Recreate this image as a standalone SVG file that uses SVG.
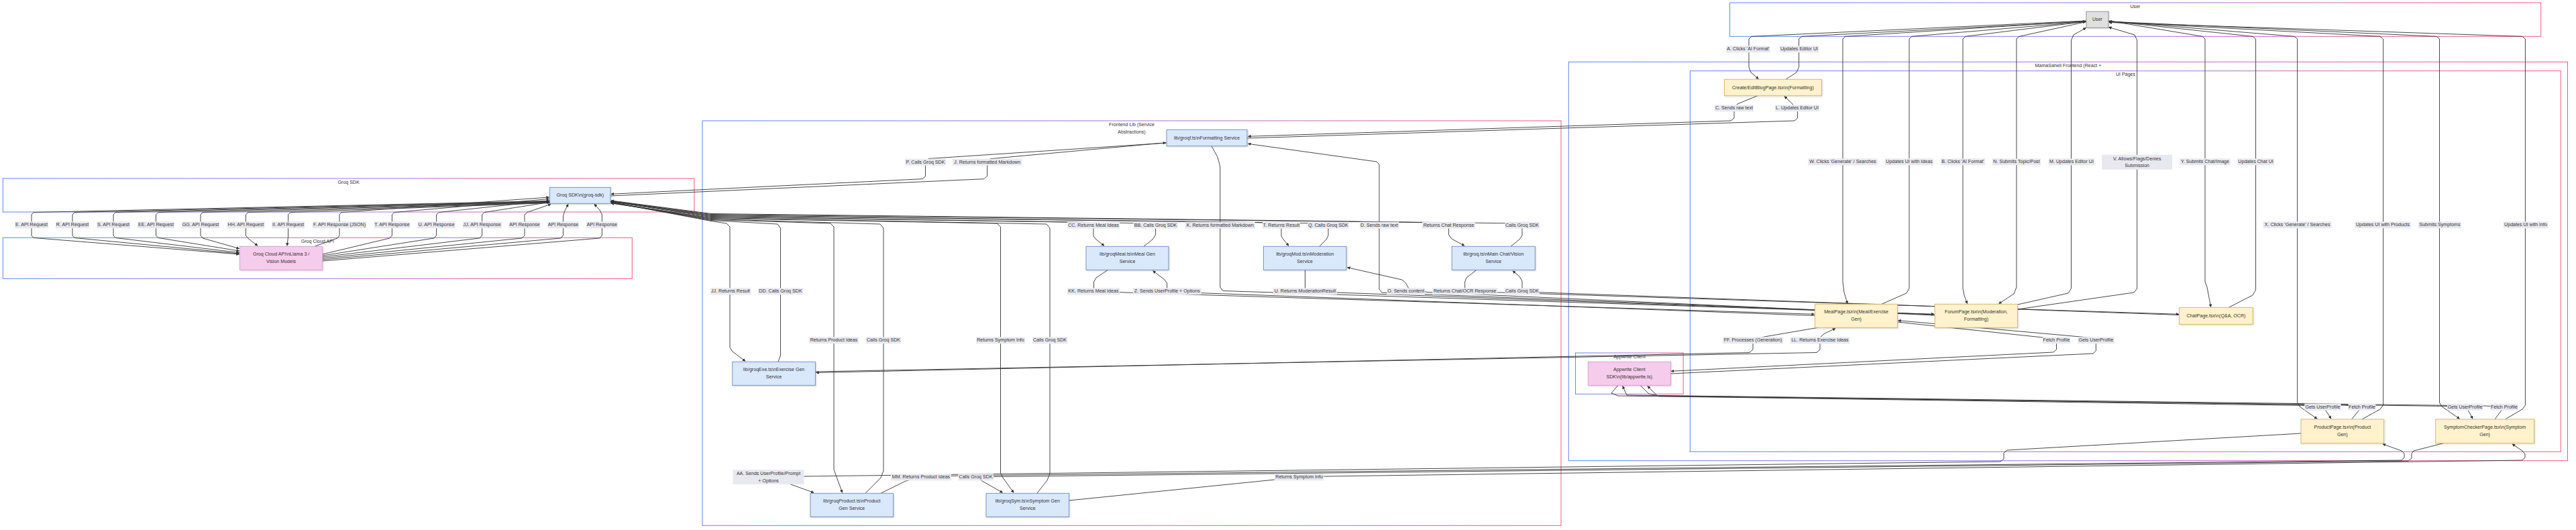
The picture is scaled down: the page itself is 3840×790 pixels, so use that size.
<svg xmlns="http://www.w3.org/2000/svg" width="3840" height="790" viewBox="0 0 3840 790">
<style>
text{font-family:"Liberation Sans",Arial,Helvetica,sans-serif;font-size:7.1px;fill:#333;text-anchor:middle;dominant-baseline:central}
.c{fill:#fff;stroke:url(#cg);stroke-width:1}
.e path{fill:none;stroke:#333;stroke-width:0.9;stroke-linejoin:round;marker-end:url(#ah)}
.l rect{fill:#e8e8f0}
.nb{fill:#dae8fc;stroke:#6c8ebf;stroke-width:0.9}
.ny{fill:#fff2cc;stroke:#d6b656;stroke-width:0.9}
.np{fill:#f6ccec;stroke:#d99bd0;stroke-width:0.9}
.ng{fill:#e0e0e0;stroke:#8c8c8c;stroke-width:0.9}
.n rect{filter:url(#sh)}
</style>
<defs>
<linearGradient id="cg" x1="0" y1="0" x2="1" y2="0">
<stop offset="0" stop-color="#5b86f0"/>
<stop offset="0.5" stop-color="#a673dc"/>
<stop offset="1" stop-color="#f25a7f"/>
</linearGradient>
<filter id="sh" x="-10%" y="-20%" width="130%" height="150%">
<feDropShadow dx="1" dy="1" stdDeviation="0.8" flood-color="#000" flood-opacity="0.18"/>
</filter>
<marker id="ah" viewBox="0 0 10 10" refX="9" refY="5" markerWidth="4.6" markerHeight="4.6" markerUnits="userSpaceOnUse" orient="auto">
<path d="M0,0 L10,5 L0,10 z" fill="#333"/>
</marker>
</defs>
<rect width="3840" height="790" fill="#fff"/>

<g id="clusters">
<g id="cl-user"><rect class="c" x="2578.6" y="4" width="1209.1" height="50.3"/><text x="3183" y="9.5">User</text></g>
<g id="cl-frontend"><rect class="c" x="2338.3" y="92.3" width="1489.2" height="594.4"/><text x="3083" y="97.7">MamaSaheli Frontend (React +</text></g>
<g id="cl-uipages"><rect class="c" x="2519.4" y="105.7" width="1297.9" height="567.6"/><text x="3168.5" y="110.7">UI Pages</text></g>
<g id="cl-appwrite"><rect class="c" x="2348.5" y="526" width="160.7" height="61.3"/><text x="2429" y="531.7">Appwrite Client</text></g>
<g id="cl-lib"><rect class="c" x="1047" y="180" width="1280" height="603.3"/><text x="1687" y="185.7">Frontend Lib (Service</text><text x="1687" y="196.7">Abstractions)</text></g>
<g id="cl-sdk"><rect class="c" x="4.3" y="266" width="1030.6" height="50"/><text x="519.7" y="271.7">Groq SDK</text></g>
<g id="cl-cloud"><rect class="c" x="4.3" y="354.3" width="938" height="61"/><text x="473.3" y="359.7">Groq Cloud API</text></g>
</g>

<g id="connectors" class="e">
<!-- SDK -> API requests -->
<path d="M820,299.5 L50,316.5 L47,320 L47,351 L50,354.5 L356.5,379"/>
<path d="M820,300 L111,316.5 L108,320 L108,351 L111,354.5 L356.5,378"/>
<path d="M820,300.5 L172,316.5 L169,320 L169,351 L172,354.5 L356.5,376.5"/>
<path d="M820,301 L236,316.5 L232.5,320 L232.5,351 L236,354.5 L356.5,374"/>
<path d="M820,301.5 L302,316.5 L299,320 L299,351 L302,355 L356.5,370.5"/>
<path d="M820,302 L370,316.5 L366.4,320 L366.4,351 L370,355.5 L384,366.3"/>
<path d="M820,302.5 L433,316.5 L429.6,320 L429.6,352 L428,366.3"/>
<!-- API -> SDK responses -->
<path d="M469,367.3 L503,355 L506,351 L506,320 L509,316.5 L818.6,294"/>
<path d="M480.7,379 L581,355 L584.4,351 L584.4,320 L588,316.5 L818.6,296.5"/>
<path d="M480.7,381 L647,355 L650.6,351 L650.6,320 L654,316.5 L818.6,299"/>
<path d="M480.7,383 L715,355 L718.6,351 L718.6,320 L722,316.5 L818.6,301.5"/>
<path d="M480.7,385 L778,355 L782,351 L782,320 L786,316.5 L821,304.3"/>
<path d="M480.7,387 L836,355 L839.5,351 L839.5,322 L842,314 L847,304.3"/>
<path d="M480.7,389 L894,355 L897.4,351 L897.4,320 L894,313 L886,304.3"/>
<!-- SDK <-> lib services -->
<path d="M1739,213 L1384,236.5 L1379.5,241 L1379.5,263 L1375,266.7 L911,289.3"/>
<path d="M910,292 L1467,266.7 L1471.7,262 L1471.7,241 L1476,236.7 L1738,212.7"/>
<path d="M910,301 L1060,329.5 L1083,333 L1088,338 L1088,518 L1092,524 L1111,538.3"/>
<path d="M1160,539.3 L1163.5,530 L1163.5,340 L1159,334 L1060,328.5 L911,302"/>
<path d="M910,301.5 L1060,327.5 L1238,333 L1243,338 L1243,700 L1246,708 L1255.6,734.3"/>
<path d="M1290,735.3 L1313,712 L1317,702 L1317,340 L1312,334 L1060,326.5 L911,302.5"/>
<path d="M910,302 L1060,325.5 L1486,333 L1491.5,338 L1491.5,705 L1495,712 L1511,734.3"/>
<path d="M1545.8,735.3 L1561,716 L1565,706 L1565,340 L1560,334 L1060,324.5 L911,303"/>
<path d="M910,300.5 L1060,323.5 L1625,331.5 L1630,336 L1630,352 L1634,357 L1646,366.3"/>
<path d="M1705,367.3 L1718,357 L1722.6,350 L1722.6,338 L1717,333 L1060,322.5 L911,300"/>
<path d="M910,300 L1060,321.5 L1905,332 L1910,336 L1910,352 L1914,358 L1921,366.3"/>
<path d="M1966.8,367.3 L1977,357 L1980,351 L1980,339 L1975,333 L1060,320.5 L911,299.5"/>
<path d="M910,299.5 L1060,319.5 L2154,332 L2159.6,336 L2159.6,350 L2164,356 L2183,366.3"/>
<path d="M2252,367.3 L2265,357 L2269,351 L2269,339 L2264,333 L1060,318.5 L911,299"/>
<!-- lib services <-> UI pages -->
<path d="M1806,217.7 L1815,234 L1818.8,248 L1818.8,428 L1823,433.5 L2883,468.3"/>
<path d="M2884.2,469 L2060,436 L2056,431 L2056,245 L2052,241 L1860.5,214.3"/>
<path d="M1945.5,402.3 L1945.5,434.3 L2883,468.6"/>
<path d="M2884.2,470 L2128,435.5 L2100,430 L2095.6,422 L2090,417 L2008.5,398.7"/>
<path d="M1651.6,402.3 L1634,414 L1630.6,420 L1630.6,434.3 L1680,436 L2704.6,468.3"/>
<path d="M2705.6,470.5 L1745,435 L1739.7,430 L1739.7,422 L1735,416 L1718.6,403.8"/>
<path d="M2201,402.3 L2186,414 L2183.7,420 L2183.7,434.3 L2240,436 L3247.7,468.3"/>
<path d="M3248.7,469.5 L2300,436 L2273,434 L2269,430 L2269,419 L2265,412 L2255,403.8"/>
<path d="M1215.4,554 L2708,525.5 L2713,521 L2713,503 L2720,497 L2736,489.6"/>
<path d="M2710,488.3 L2630,502 L2613,507 L2613,521 L2608,525.5 L1216.6,555.5"/>
<path d="M3430,646 L2992,671 L2987,675 L2987,684 L2982,688 L1200,710 L1150,711 L1176,721 L1213,734.3"/>
<path d="M1313,735.3 L1350,717 L1373,711.3 L1430,709 L3580,686 L3584,682 L3584,676 L3580,672 L3552,661.9"/>
<path d="M3642.3,660.7 L3598,672 L3595,676 L3595,683 L3590,687 L1485,710.5 L1455,711.3 L1464,717 L1494.5,734.3"/>
<path d="M1593.6,746 L1900,715 L1936.6,711.3 L1975,710 L3760,686 L3764,682 L3764,677 L3760,672 L3745,661.9"/>
<!-- Appwrite -->
<path d="M2828.6,480 L3045,503 L3065.5,507 L3065.5,521 L3061,525 L2491.3,553.3"/>
<path d="M2490.3,557 L3120,527 L3124.4,523 L3124.4,512 L3118,503.5 L2829.6,477.7"/>
<path d="M2412,574.3 L2402,586 L2412,590 L3440,604.5 L3462.4,606.7 L3467,612 L3475,624"/>
<path d="M3505.6,625 L3516,612 L3521,606.7 L3495,604 L2425,589 L2418.9,575.5"/>
<path d="M2445,574.3 L2458,587 L2475,590.5 L3650,605.5 L3674.7,606.7 L3680,613 L3686,624"/>
<path d="M3719,625 L3728.6,612 L3733,606.7 L3705,605 L2470,589.5 L2456,575.5"/>
<!-- User -->
<path d="M3110,31 L2611,54.3 L2607,58 L2607,100 L2610,108 L2621.4,117.6"/>
<path d="M2662,118.3 L2678,108 L2681.6,100 L2681.6,58 L2686,54.3 L3109,32"/>
<path d="M3110,31.5 L2751,54.3 L2747,58 L2747,420 L2749,436 L2754,452.6"/>
<path d="M2805,453.3 L2842,437 L2846,430 L2846,58 L2850,54.3 L3109,32.5"/>
<path d="M3110,32 L2930,54.3 L2926,58 L2926,430 L2928,440 L2932.6,452.6"/>
<path d="M3110,32.5 L3010,54.3 L3006,58 L3006,428 L3002,438 L2979.6,452.6"/>
<path d="M3007.6,454 L3083,437 L3087.5,430 L3087.5,60 L3091,52 L3109.5,41.5"/>
<path d="M3007.6,461 L3181,436 L3185.7,430 L3185.7,60 L3182,52 L3143.5,40.5"/>
<path d="M3143,31 L3283,54.3 L3287,58 L3287,420 L3290,428 L3295.7,457.6"/>
<path d="M3322.4,458.3 L3358,440 L3362.6,432 L3362.6,58 L3358,54.3 L3144,31.5"/>
<path d="M3143,31.5 L3420,54.3 L3424.6,58 L3424.6,600 L3428,606 L3454.2,624.3"/>
<path d="M3521,625 L3548,610 L3552.6,604 L3552.6,58 L3548,54.3 L3144,32.5"/>
<path d="M3143,32 L3632,54.3 L3636.5,58 L3636.5,600 L3640,606 L3666.5,624.3"/>
<path d="M3734.4,625 L3760,610 L3764.4,604 L3764.4,58 L3760,54.3 L3144,33.5"/>
<path d="M2620,142.7 L2590,155 L2585,160 L2585,176 L2580,180 L1860.5,203.3"/>
<path d="M1859,206 L2675,180 L2679.6,176 L2679.6,166 L2672,155 L2660,143.6"/>
</g>

<g id="edge-labels" class="l">
<g><rect x="22" y="330.3" width="50" height="10"/><text x="47" y="335.3">E. API Request</text></g>
<g><rect x="83" y="330.3" width="50" height="10"/><text x="108" y="335.3">R. API Request</text></g>
<g><rect x="144" y="330.3" width="50" height="10"/><text x="169" y="335.3">S. API Request</text></g>
<g><rect x="205" y="330.3" width="55" height="10"/><text x="232.5" y="335.3">EE. API Request</text></g>
<g><rect x="270.8" y="330.3" width="56.5" height="10"/><text x="299" y="335.3">GG. API Request</text></g>
<g><rect x="338.4" y="330.3" width="56" height="10"/><text x="366.4" y="335.3">HH. API Request</text></g>
<g><rect x="405.1" y="330.3" width="49" height="10"/><text x="429.6" y="335.3">II. API Request</text></g>
<g><rect x="465.7" y="330.3" width="80.7" height="10"/><text x="506" y="335.3">F. API Response (JSON)</text></g>
<g><rect x="557.6" y="330.3" width="53.7" height="10"/><text x="584.4" y="335.3">T. API Response</text></g>
<g><rect x="622.6" y="330.3" width="56" height="10"/><text x="650.6" y="335.3">U. API Response</text></g>
<g><rect x="689.6" y="330.3" width="58" height="10"/><text x="718.6" y="335.3">JJ. API Response</text></g>
<g><rect x="758.6" y="330.3" width="46.7" height="10"/><text x="782" y="335.3">API Response</text></g>
<g><rect x="816.3" y="330.3" width="46.4" height="10"/><text x="839.5" y="335.3">API Response</text></g>
<g><rect x="874" y="330.3" width="46.8" height="10"/><text x="897.4" y="335.3">API Response</text></g>

<g><rect x="1349" y="236.7" width="61" height="10"/><text x="1379.5" y="241.7">P. Calls Groq SDK</text></g>
<g><rect x="1420" y="236.7" width="103.5" height="10"/><text x="1471.7" y="241.7">J. Returns formatted Markdown</text></g>
<g><rect x="1590.8" y="330.7" width="78.5" height="10"/><text x="1630" y="335.7">CC. Returns Meal Ideas</text></g>
<g><rect x="1689.6" y="330.7" width="66" height="10"/><text x="1722.6" y="335.7">BB. Calls Groq SDK</text></g>
<g><rect x="1766.8" y="330.7" width="104" height="10"/><text x="1818.8" y="335.7">K. Returns formatted Markdown</text></g>
<g><rect x="1882" y="330.7" width="56" height="10"/><text x="1910" y="335.7">T. Returns Result</text></g>
<g><rect x="1949.5" y="330.7" width="61" height="10"/><text x="1980" y="335.7">Q. Calls Groq SDK</text></g>
<g><rect x="2026.8" y="330.7" width="58.5" height="10"/><text x="2056" y="335.7">D. Sends raw text</text></g>
<g><rect x="2120.1" y="330.7" width="79" height="10"/><text x="2159.6" y="335.7">Returns Chat Response</text></g>
<g><rect x="2243.3" y="330.7" width="51.5" height="10"/><text x="2269" y="335.7">Calls Groq SDK</text></g>
<g><rect x="1590.8" y="429.3" width="78.5" height="10"/><text x="1630" y="434.3">KK. Returns Meal Ideas</text></g>
<g><rect x="1688.7" y="429.3" width="102" height="10"/><text x="1739.7" y="434.3">Z. Sends UserProfile + Options</text></g>
<g><rect x="1898" y="429.3" width="95" height="10"/><text x="1945.5" y="434.3">U. Returns ModerationResult</text></g>
<g><rect x="2067.2" y="429.3" width="56.7" height="10"/><text x="2095.6" y="434.3">O. Sends content</text></g>
<g><rect x="2135.2" y="429.3" width="97" height="10"/><text x="2183.7" y="434.3">Returns Chat/OCR Response</text></g>
<g><rect x="2243.3" y="429.3" width="51.5" height="10"/><text x="2269" y="434.3">Calls Groq SDK</text></g>
<g><rect x="1059" y="429.3" width="60" height="10"/><text x="1089" y="434.3">JJ. Returns Result</text></g>
<g><rect x="1130" y="429.3" width="67" height="10"/><text x="1163.5" y="434.3">DD. Calls Groq SDK</text></g>
<g><rect x="1206.3" y="502.3" width="73.5" height="10"/><text x="1243" y="507.3">Returns Product Ideas</text></g>
<g><rect x="1291.2" y="502.3" width="51.7" height="10"/><text x="1317" y="507.3">Calls Groq SDK</text></g>
<g><rect x="1455" y="502.3" width="73" height="10"/><text x="1491.5" y="507.3">Returns Symptom Info</text></g>
<g><rect x="1539" y="502.3" width="52" height="10"/><text x="1565" y="507.3">Calls Groq SDK</text></g>
<g><rect x="1092.6" y="700.2" width="106" height="21.7"/><text x="1145.6" y="705.7">AA. Sends UserProfile/Prompt</text><text x="1145.6" y="716.7">+ Options</text></g>
<g><rect x="1328" y="706.3" width="90" height="10"/><text x="1373" y="711.3">MM. Returns Product Ideas</text></g>
<g><rect x="1428.3" y="706.3" width="52.7" height="10"/><text x="1454.6" y="711.3">Calls Groq SDK</text></g>
<g><rect x="1899.9" y="706.3" width="73.5" height="10"/><text x="1936.6" y="711.3">Returns Symptom Info</text></g>

<g><rect x="2573.4" y="68.3" width="65.3" height="10"/><text x="2606" y="73.3">A. Clicks 'AI Format'</text></g>
<g><rect x="2652.7" y="68.3" width="58.6" height="10"/><text x="2682" y="73.3">Updates Editor UI</text></g>
<g><rect x="2556" y="156.3" width="58" height="10"/><text x="2585" y="161.3">C. Sends raw text</text></g>
<g><rect x="2646.2" y="156.3" width="65.6" height="10"/><text x="2679" y="161.3">L. Updates Editor UI</text></g>
<g><rect x="2695.2" y="236.3" width="103.6" height="10"/><text x="2747" y="241.3">W. Clicks 'Generate' / Searches</text></g>
<g><rect x="2810" y="236.3" width="72" height="10"/><text x="2846" y="241.3">Updates UI with Ideas</text></g>
<g><rect x="2893" y="236.3" width="66" height="10"/><text x="2926" y="241.3">B. Clicks 'AI Format'</text></g>
<g><rect x="2969.8" y="236.3" width="72.4" height="10"/><text x="3006" y="241.3">N. Submits Topic/Post</text></g>
<g><rect x="3053.7" y="236.3" width="68.6" height="10"/><text x="3088" y="241.3">M. Updates Editor UI</text></g>
<g><rect x="3133.2" y="230.7" width="105" height="22"/><text x="3185.7" y="236.5">V. Allows/Flags/Denies</text><text x="3185.7" y="247.3">Submission</text></g>
<g><rect x="3249.4" y="236.3" width="75.3" height="10"/><text x="3287" y="241.3">Y. Submits Chat/Image</text></g>
<g><rect x="3335.4" y="236.3" width="54.5" height="10"/><text x="3362.6" y="241.3">Updates Chat UI</text></g>
<g><rect x="3373.6" y="330.3" width="102" height="10"/><text x="3424.6" y="335.3">X. Clicks 'Generate' / Searches</text></g>
<g><rect x="3510.3" y="330.3" width="83.4" height="10"/><text x="3552" y="335.3">Updates UI with Products</text></g>
<g><rect x="3605" y="330.3" width="64" height="10"/><text x="3637" y="335.3">Submits Symptoms</text></g>
<g><rect x="3731.8" y="330.3" width="66.5" height="10"/><text x="3765" y="335.3">Updates UI with Info</text></g>
<g><rect x="2567.9" y="502.3" width="90.3" height="10"/><text x="2613" y="507.3">FF. Processes (Generation)</text></g>
<g><rect x="2668.7" y="502.3" width="88.7" height="10"/><text x="2713" y="507.3">LL. Returns Exercise Ideas</text></g>
<g><rect x="3045" y="502.3" width="41" height="10"/><text x="3065.5" y="507.3">Fetch Profile</text></g>
<g><rect x="3097" y="502.3" width="54.7" height="10"/><text x="3124.4" y="507.3">Gets UserProfile</text></g>
<g><rect x="3435.3" y="601.7" width="54.3" height="10"/><text x="3462.4" y="606.7">Gets UserProfile</text></g>
<g><rect x="3500.6" y="601.7" width="40.8" height="10"/><text x="3521" y="606.7">Fetch Profile</text></g>
<g><rect x="3648" y="601.7" width="53.4" height="10"/><text x="3674.7" y="606.7">Gets UserProfile</text></g>
<g><rect x="3712.4" y="601.7" width="41.2" height="10"/><text x="3733" y="606.7">Fetch Profile</text></g>
</g>

<g id="nodes" class="n">
<g id="user"><rect class="ng" x="3110" y="17.3" width="33" height="24"/><text x="3126.5" y="29.3">User</text></g>
<g id="createEdit"><rect class="ny" x="2570.4" y="118.3" width="144.9" height="24.4"/><text x="2642.9" y="130.5">Create/EditBlogPage.tsx\n(Formatting)</text></g>
<g id="mealPage"><rect class="ny" x="2705.6" y="453.3" width="123" height="35"/><text x="2767.1" y="465.3">MealPage.tsx\n(Meal/Exercise</text><text x="2767.1" y="476.3">Gen)</text></g>
<g id="forumPage"><rect class="ny" x="2884.2" y="453.3" width="123.4" height="35"/><text x="2945.9" y="465.3">ForumPage.tsx\n(Moderation,</text><text x="2945.9" y="476.3">Formatting)</text></g>
<g id="chatPage"><rect class="ny" x="3248.7" y="458.3" width="109.5" height="25"/><text x="3303.5" y="470.8">ChatPage.tsx\n(Q&amp;A, OCR)</text></g>
<g id="productPage"><rect class="ny" x="3430" y="625" width="123.6" height="35.7"/><text x="3491.8" y="637">ProductPage.tsx\n(Product</text><text x="3491.8" y="648">Gen)</text></g>
<g id="symptomPage"><rect class="ny" x="3630.7" y="625" width="146.8" height="35.7"/><text x="3704.1" y="637">SymptomCheckerPage.tsx\n(Symptom</text><text x="3704.1" y="648">Gen)</text></g>
<g id="appwriteSdk"><rect class="np" x="2367.3" y="539.3" width="123" height="35"/><text x="2428.8" y="551.3">Appwrite Client</text><text x="2428.8" y="562.3">SDK\n(lib/appwrite.ts)</text></g>
<g id="groqf"><rect class="nb" x="1739" y="193.3" width="120" height="24.4"/><text x="1799" y="205.5">lib/groqf.ts\nFormatting Service</text></g>
<g id="groqMeal"><rect class="nb" x="1619" y="367.3" width="123" height="35"/><text x="1680.5" y="379.3">lib/groqMeal.ts\nMeal Gen</text><text x="1680.5" y="390.3">Service</text></g>
<g id="groqMod"><rect class="nb" x="1883.4" y="367.3" width="123.6" height="35"/><text x="1945.2" y="379.3">lib/groqMod.ts\nModeration</text><text x="1945.2" y="390.3">Service</text></g>
<g id="groqMain"><rect class="nb" x="2164.3" y="367.3" width="124" height="35"/><text x="2226.3" y="379.3">lib/groq.ts\nMain Chat/Vision</text><text x="2226.3" y="390.3">Service</text></g>
<g id="groqExe"><rect class="nb" x="1091.8" y="539.3" width="123.6" height="35"/><text x="1153.6" y="551.3">lib/groqExe.ts\nExercise Gen</text><text x="1153.6" y="562.3">Service</text></g>
<g id="groqProduct"><rect class="nb" x="1208" y="735.3" width="123.5" height="35"/><text x="1269.8" y="747.3">lib/groqProduct.ts\nProduct</text><text x="1269.8" y="758.3">Gen Service</text></g>
<g id="groqSym"><rect class="nb" x="1470" y="735.3" width="123.6" height="35"/><text x="1531.8" y="747.3">lib/groqSym.ts\nSymptom Gen</text><text x="1531.8" y="758.3">Service</text></g>
<g id="groqSdk"><rect class="nb" x="819.6" y="279.3" width="90.4" height="24"/><text x="864.8" y="291.3">Groq SDK\n(groq-sdk)</text></g>
<g id="groqCloud"><rect class="np" x="357.5" y="367.3" width="123.2" height="35"/><text x="419.1" y="379.3">Groq Cloud API\nLlama 3 /</text><text x="419.1" y="390.3">Vision Models</text></g>
</g>
</svg>
